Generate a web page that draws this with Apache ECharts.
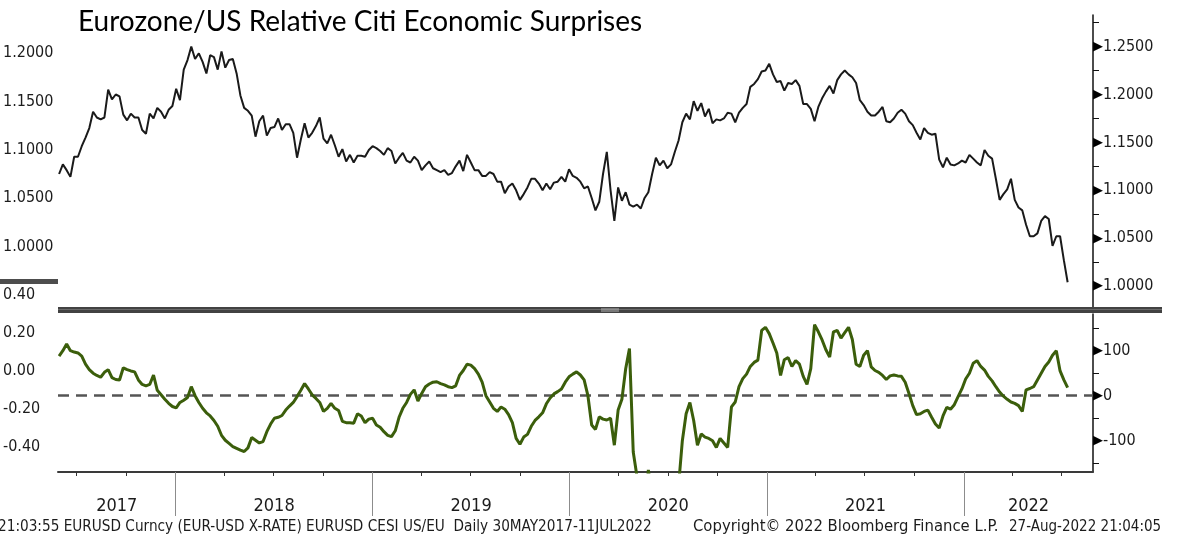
<!DOCTYPE html>
<html><head><meta charset="utf-8">
<script src="https://cdn.jsdelivr.net/npm/echarts@6/dist/echarts.min.js"></script>
<style>html,body{margin:0;padding:0;background:#fff;overflow:hidden}#c{width:1180px;height:534px}</style>
</head><body><div id="c"></div>
<script>
const TITLE = 'Eurozone/US Relative Citi Economic Surprises';
const FOOTER_LEFT = '21:03:55 EURUSD Curncy (EUR-USD X-RATE) EURUSD CESI US/EU  Daily 30MAY2017-11JUL2022';
const FOOTER_MID = 'Copyright\u00A9 2022 Bloomberg Finance L.P.';
const FOOTER_RIGHT = '27-Aug-2022 21:04:05';

// weekly observations, first one on this date, one every 7 days
const SERIES_START = '2017-05-30';

// EURUSD (right axis of top panel), weekly
const eurusd2017 = [1.117,1.127,1.121,1.114,1.135, 1.135,1.146,1.155,1.165, 1.182,1.176,1.174,1.176,1.205, 1.195,1.200,1.198,1.179, 1.173,1.180,1.176,1.176,1.163, 1.159,1.180,1.175,1.186, 1.182,1.175,1.184,1.188];
const eurusd2018 = [1.206,1.194,1.226,1.236,1.250, 1.237,1.243,1.234,1.222, 1.241,1.239,1.226,1.245, 1.228,1.236,1.237,1.222, 1.199,1.186,1.183,1.178,1.156, 1.172,1.178,1.157,1.165, 1.166,1.175,1.163,1.169,1.169, 1.160,1.134,1.153,1.170, 1.155,1.160,1.167,1.176, 1.154,1.149,1.158,1.147,1.135, 1.143,1.130,1.137,1.129, 1.136,1.136,1.135,1.142];
const eurusd2019 = [1.146,1.144,1.141,1.137,1.144, 1.141,1.128,1.134,1.139, 1.131,1.129,1.135,1.131, 1.121,1.126,1.130,1.123,1.121, 1.119,1.121,1.116,1.118, 1.125,1.131,1.120,1.137, 1.129,1.121,1.121,1.115,1.115, 1.119,1.117,1.109,1.109, 1.097,1.104,1.107,1.100, 1.090,1.096,1.103,1.112,1.112, 1.107,1.100,1.107,1.101, 1.108,1.109,1.114,1.109,1.122];
const eurusd2020 = [1.115,1.113,1.109,1.102, 1.104,1.092,1.079,1.088, 1.117,1.140,1.100,1.068,1.103, 1.089,1.098,1.085,1.083, 1.085,1.081,1.092,1.098, 1.117,1.134,1.126,1.131,1.123, 1.127,1.140,1.152,1.171, 1.180,1.174,1.193,1.183, 1.191,1.177,1.185,1.170,1.174, 1.173,1.175,1.181,1.180, 1.171,1.181,1.186,1.190, 1.208,1.211,1.216,1.224,1.225];
const eurusd2021 = [1.232,1.221,1.213,1.214, 1.204,1.212,1.211,1.215, 1.209,1.190,1.190,1.185,1.172, 1.187,1.196,1.203,1.209, 1.201,1.215,1.221,1.225, 1.221,1.218,1.212,1.194,1.189, 1.182,1.178,1.178,1.182, 1.187,1.172,1.171,1.175,1.181, 1.184,1.180,1.172,1.168, 1.160,1.153,1.165,1.160, 1.158,1.159,1.132,1.124,1.134, 1.127,1.126,1.128,1.131];
const eurusd2022 = [1.129,1.137,1.133,1.129, 1.126,1.142,1.136,1.133, 1.112,1.090,1.096,1.101,1.112, 1.090,1.082,1.079,1.064, 1.052,1.052,1.055,1.068,1.073, 1.070,1.042,1.052,1.052, 1.027,1.004];

// CESI US/EU (right axis of bottom panel), weekly
const cesi2017 = [88,100,115,100,97,95,88,70,58,50,45,41,52,58,40,36,35,62,58,55,53,35,25,22,25,46,12,2,-8,-17,-24];
const cesi2018 = [-27,-15,-10,-4,20,0,-15,-28,-38,-45,-55,-68,-88,-99,-106,-113,-117,-121,-124,-116,-93,-99,-105,-102,-80,-63,-50,-48,-44,-32,-23,-15,-2,12,27,15,2,-6,-15,-35,-28,-17,-28,-33,-57,-60,-60,-61,-40,-45,-60,-52];
const cesi2019 = [-50,-65,-70,-80,-88,-91,-78,-48,-28,-15,3,13,-12,5,20,26,30,31,27,24,20,18,22,45,56,70,68,60,48,30,0,-14,-28,-35,-25,-30,-42,-60,-95,-108,-92,-86,-68,-55,-47,-38,-18,-5,4,9,15,30,42];
const cesi2020 = [48,53,46,35,0,-65,-75,-47,-52,-54,-50,-110,-32,-8,60,105,-125,-180,-230,-260,-165,-220,-250,-240,-235,-230,-225,-215,-200,-100,-40,-15,-55,-110,-85,-92,-95,-100,-115,-95,-105,-115,-25,-14,20,38,48,65,74,79,145,152];
const cesi2021 = [138,117,95,45,80,85,65,78,70,43,25,60,158,142,124,102,86,142,145,128,140,152,125,70,65,90,100,64,56,52,45,36,44,46,44,43,30,5,-22,-42,-40,-35,-32,-48,-63,-72,-45,-26,-30,-20,-2,15];
const cesi2022 = [37,50,72,78,65,57,43,33,20,8,-1,-8,-14,-17,-22,-35,13,16,20,35,50,65,75,90,100,55,35,18];

// axis text
const X_MIN = '2017-05-28', X_MAX = '2022-08-28';
const yearLabels = ['2017','2018','2019','2020','2021','2022'];
const yearBoundaries = ['2018-01-01','2019-01-01','2020-01-01','2021-01-01','2022-01-01'];
const quarterTicks = ['2017-07-01','2017-10-01','2018-04-01','2018-07-01','2018-10-01','2019-04-01','2019-07-01','2019-10-01','2020-04-01','2020-07-01','2020-10-01','2021-04-01','2021-07-01','2021-10-01','2022-04-01','2022-07-01'];
const fxRightLabels = [1.00,1.05,1.10,1.15,1.20,1.25];
const fxRightMinor = [1.025,1.075,1.125,1.175,1.225,1.275];
const fxLeftLabels = [1.00,1.05,1.10,1.15,1.20];
const cesiRightLabels = [-100,0,100];
const cesiRightMinor = [-150,-50,50,150];
const cesiLeftLabels = [0.40,0.20,0.00,-0.20,-0.40];

const t = s => Date.parse(s + 'T00:00:00Z');
const DAY = 86400000;
const eurusd = [].concat(eurusd2017, eurusd2018, eurusd2019, eurusd2020, eurusd2021, eurusd2022);
const cesi = [].concat(cesi2017, cesi2018, cesi2019, cesi2020, cesi2021, cesi2022);
const start = t(SERIES_START);
const fxData = eurusd.map((v, i) => [start + i * 7 * DAY, v]);
const cesiData = cesi.map((v, i) => [start + i * 7 * DAY, v]);

const xmin = t(X_MIN), xmax = t(X_MAX);
const bounds = [xmin].concat(yearBoundaries.map(t), [xmax]);
const yearMid = yearLabels.map((_, i) => (bounds[i] + bounds[i + 1]) / 2);

const AX_FONT = "'DejaVu Sans Condensed','DejaVu Sans',sans-serif";
const FAM = "'DejaVu Sans Condensed','DejaVu Sans',sans-serif";
const TXT = '#1c1c1c';
const tri = {t: {fontSize: 13, color: '#000', fontFamily: 'DejaVu Sans', padding: [0, 0, 0, 0]}};

const chart = echarts.init(document.getElementById('c'), null, {renderer: 'canvas'});
chart.setOption({
  animation: false,
  backgroundColor: '#fff',
  grid: [
    {left: 58, right: 87, top: 15, height: 295},
    {left: 58, right: 87, top: 314, height: 158},
    {left: 58, right: 87, top: 290, height: 182}
  ],
  xAxis: [
    {gridIndex: 0, type: 'value', min: xmin, max: xmax, show: false},
    {gridIndex: 1, type: 'value', min: xmin, max: xmax, position: 'bottom',
      axisLine: {show: true, onZero: false, lineStyle: {color: '#3a3a3a', width: 2}},
      axisTick: {show: true, customValues: quarterTicks.map(t), length: 4, lineStyle: {color: '#333', width: 1}},
      axisLabel: {show: false}, splitLine: {show: false}},
    {gridIndex: 1, type: 'value', min: xmin, max: xmax, position: 'bottom',
      axisLine: {show: false, onZero: false},
      axisTick: {show: true, customValues: yearBoundaries.map(t), length: 44, lineStyle: {color: '#8c8c8c', width: 1}},
      axisLabel: {show: false}, splitLine: {show: false}},
    {gridIndex: 1, type: 'value', min: xmin, max: xmax, position: 'bottom',
      axisLine: {show: false, onZero: false}, axisTick: {show: false}, splitLine: {show: false},
      axisLabel: {show: true, customValues: yearMid, margin: 25, fontSize: 18, color: TXT, fontFamily: AX_FONT,
        formatter: v => { let k = 0, d = Infinity; yearMid.forEach((m, i) => { if (Math.abs(m - v) < d) { d = Math.abs(m - v); k = i; } }); return yearLabels[k]; }}},
    {gridIndex: 2, type: 'value', min: xmin, max: xmax, show: false}
  ],
  yAxis: [
    {gridIndex: 0, type: 'value', position: 'right', min: 0.975, max: 1.283,
      axisLine: {show: true, onZero: false, lineStyle: {color: '#111', width: 1.5}},
      axisTick: {show: true, customValues: fxRightMinor, length: 6, lineStyle: {color: '#111', width: 1}},
      axisLabel: {customValues: fxRightLabels, margin: 0, fontSize: 16, color: TXT, fontFamily: AX_FONT,
        formatter: v => '{t|\u25B6}' + v.toFixed(4), rich: tri},
      splitLine: {show: false}},
    {gridIndex: 0, type: 'value', position: 'left', min: 0.9346, max: 1.2392,
      axisLine: {show: false, onZero: false}, axisTick: {show: false}, splitLine: {show: false},
      axisLabel: {customValues: fxLeftLabels, align: 'left', margin: 55, fontSize: 16, color: TXT, fontFamily: AX_FONT,
        formatter: v => v.toFixed(4)}},
    {gridIndex: 1, type: 'value', position: 'right', min: -169.6, max: 181.6,
      axisLine: {show: true, onZero: false, lineStyle: {color: '#111', width: 1.5}},
      axisTick: {show: true, customValues: cesiRightMinor, length: 6, lineStyle: {color: '#111', width: 1}},
      axisLabel: {customValues: cesiRightLabels, margin: 0, fontSize: 16, color: TXT, fontFamily: AX_FONT,
        formatter: v => '{t|\u25B6}' + Math.round(v), rich: tri},
      splitLine: {show: false}},
    {gridIndex: 2, type: 'value', position: 'left', min: -0.531, max: 0.4232,
      axisLine: {show: false, onZero: false}, axisTick: {show: false}, splitLine: {show: false},
      axisLabel: {customValues: cesiLeftLabels, align: 'left', margin: 55, fontSize: 16, color: TXT, fontFamily: AX_FONT,
        formatter: v => v.toFixed(2)}}
  ],
  series: [
    {type: 'line', name: 'EURUSD', xAxisIndex: 0, yAxisIndex: 0, data: fxData, showSymbol: false, silent: true,
      lineStyle: {color: '#1a1a1a', width: 2}},
    {type: 'line', name: 'CESI US/EU', xAxisIndex: 1, yAxisIndex: 2, data: cesiData, showSymbol: false, silent: true, z: 3,
      lineStyle: {color: '#3b5e0b', width: 3},
      markLine: {silent: true, symbol: 'none', label: {show: false}, z: 2,
        lineStyle: {color: '#555', width: 2.5, type: [11, 7]}, data: [{yAxis: 0}]}}
  ],
  graphic: [
    {type: 'text', z: 100, style: {text: TITLE, x: 78, y: 22, textVerticalAlign: 'middle', font: "28px Lato, 'Open Sans', sans-serif", fill: '#000'}},
    {type: 'rect', z: 100, shape: {x: 0, y: 279, width: 58, height: 5}, style: {fill: '#4d4d4d'}},
    {type: 'rect', z: 100, shape: {x: 58, y: 307, width: 1104, height: 6}, style: {fill: '#424242'}},
    {type: 'rect', z: 101, shape: {x: 58, y: 309, width: 1104, height: 1}, style: {fill: '#6a6a6a'}},
    {type: 'rect', z: 102, shape: {x: 601, y: 308.5, width: 18, height: 1}, style: {fill: '#b0b0b0'}},
    {type: 'rect', z: 102, shape: {x: 601, y: 310.5, width: 18, height: 1}, style: {fill: '#b0b0b0'}},
    {type: 'text', z: 100, style: {text: FOOTER_LEFT, x: -2, y: 527, textVerticalAlign: 'middle', font: '15.2px ' + FAM, fill: TXT}},
    {type: 'text', z: 100, style: {text: FOOTER_MID, x: 693, y: 527, textVerticalAlign: 'middle', font: '16.5px ' + FAM, fill: TXT}},
    {type: 'text', z: 100, style: {text: FOOTER_RIGHT, x: 1009, y: 527, textVerticalAlign: 'middle', font: '15px ' + FAM, fill: TXT}}
  ]
});
</script>
</body></html>
